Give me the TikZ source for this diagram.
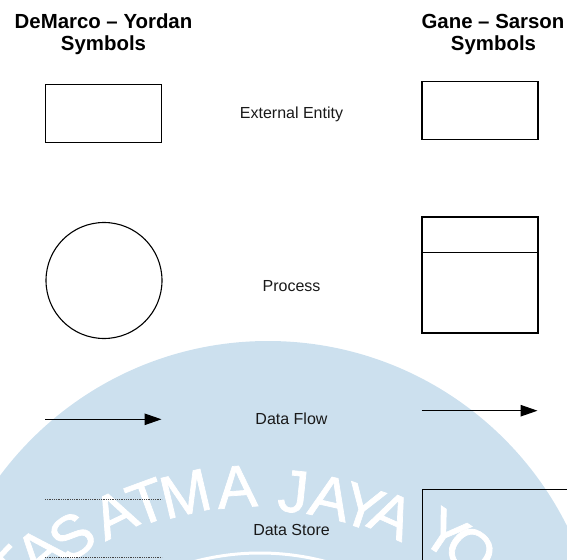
\documentclass[tikz,border=0pt]{standalone}
\usepackage{fontspec}
\setmainfont{Liberation Sans}
\newfontfamily\wmfont{Liberation Sans}[FakeBold=1.2]
\usetikzlibrary{arrows.meta,calc}
\definecolor{wmblue}{RGB}{204,224,238}
\definecolor{ink}{RGB}{25,25,25}
\definecolor{dotgray}{RGB}{70,70,70}
\begin{document}
\begin{tikzpicture}[x=1pt,y=-1pt,
  symbox/.style={draw=black,line width=1.3pt,inner sep=0pt,minimum width=116pt,minimum height=58pt},
  proccircle/.style={draw=black,circle,line width=1.1pt,inner sep=0pt,minimum size=116pt},
  flow/.style={draw=black,line width=1.1pt,-{Triangle[length=17pt,width=11.5pt]}},
  storeline/.style={draw=dotgray,line width=0.9pt,dash pattern=on 1pt off 0.8pt},
  storeedge/.style={draw=black,line width=1pt},
  hdr/.style={font=\fontsize{20.4}{24}\selectfont\bfseries,text=black,inner sep=0pt,anchor=base},
  lbl/.style={font=\fontsize{16}{19}\selectfont,text=ink,inner sep=0pt,anchor=base},
  wmletter/.style={font=\wmfont\fontsize{60}{60}\selectfont,text=white,inner sep=0pt,anchor=center}
]
\useasboundingbox (0,0) rectangle (567,559);
% watermark
\begin{scope}
  \clip (0,0) rectangle (567,559);
  \fill[wmblue] (268,675) circle[radius=334];
  \draw[white,line width=3pt] ($(260,810)+(-70:257)$) arc[start angle=-70,end angle=-110,radius=257];
  \foreach \ch/\a/\r [count=\i] in {T/136/345, A/130.5/340, S/124.5/332, A/116.2/330, T/110.2/328, M/103.3/325, A/94.1/324, J/84/320, A/77.3/320, Y/71.3/320, A/65.9/323, Y/56.2/333, O/50.9/334}
    \node[wmletter,rotate=\a-90] (wm\i) at ($(260,810)+(-\a:\r)$) {\ch};
\end{scope}
% headers
\node[hdr] (hL1) at (103.5,29) {DeMarco -- Yordan};
\node[hdr] (hL2) at (103.5,51) {Symbols};
\node[hdr] (hR1) at (493,29) {Gane -- Sarson};
\node[hdr] (hR2) at (493.5,51) {Symbols};
% external entity
\node[symbox] (eeL) at (103.7,113.5) {};
\node[symbox] (eeR) at (479.9,110.2) {};
\node[lbl] (tEE) at (291.5,118.3) {External Entity};
% process
\node[proccircle] (procL) at (104,280.5) {};
\node[symbox,minimum height=116pt] (procR) at (480,275) {};
\draw[line width=1.3pt] ([yshift=-36pt]procR.north west) -- ([yshift=-36pt]procR.north east);
\node[lbl] (tPR) at (291.5,291.7) {Process};
% data flow
\coordinate (dfL1) at (45,419.3);
\coordinate (dfL2) at (161.5,419.3);
\coordinate (dfR1) at (421.7,410.7);
\coordinate (dfR2) at (537.5,410.7);
\draw[flow] (dfL1) -- (dfL2);
\draw[flow] (dfR1) -- (dfR2);
\node[lbl] (tDF) at (291.5,424) {Data Flow};
% data store
\coordinate (dsA1) at (45,499.3);
\coordinate (dsA2) at (162,499.3);
\coordinate (dsB1) at (45,557.7);
\coordinate (dsB2) at (162,557.7);
\draw[storeline] (dsA1) -- (dsA2);
\draw[storeline] (dsB1) -- (dsB2);
\coordinate (dsR1) at (569,489);
\coordinate (dsRc) at (422.3,489);
\coordinate (dsR2) at (422.3,561);
\draw[storeedge] (dsR1) -- (dsRc) -- (dsR2);
\node[lbl] (tDS) at (291.5,535) {Data Store};
\end{tikzpicture}
\end{document}
